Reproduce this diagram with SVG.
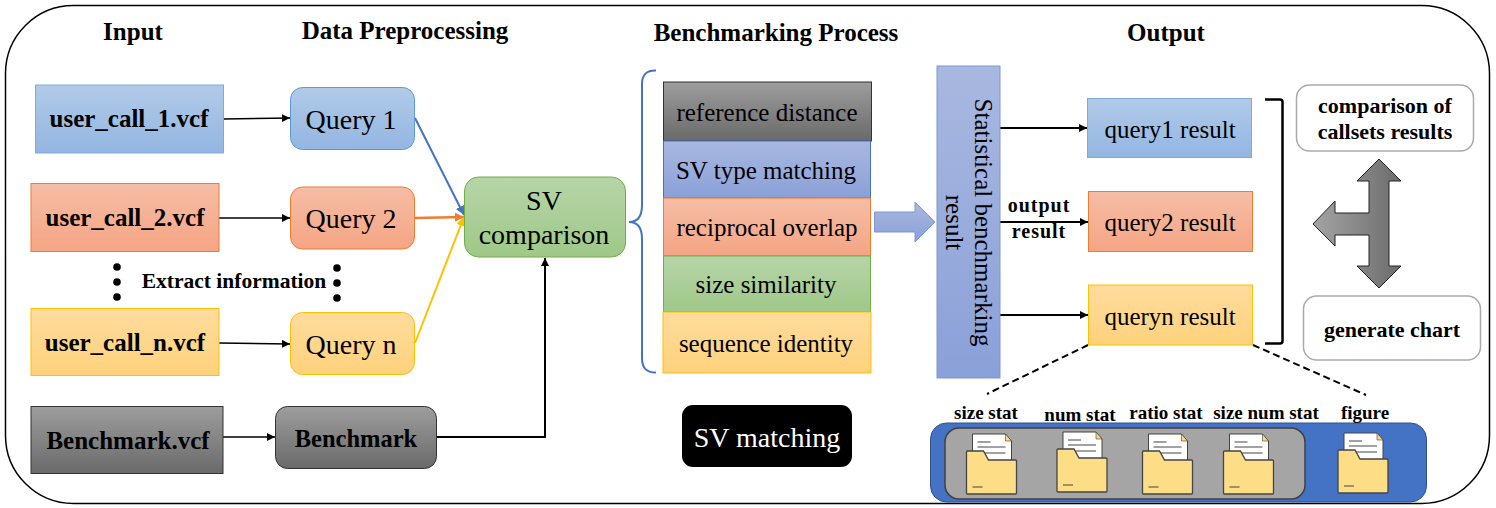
<svg xmlns="http://www.w3.org/2000/svg" xmlns:xlink="http://www.w3.org/1999/xlink" width="1496" height="508" viewBox="0 0 1496 508">
<defs>
<linearGradient id="gBlue" x1="0" y1="0" x2="0" y2="1"><stop offset="0" stop-color="#b1cae8"/><stop offset="1" stop-color="#93b6e2"/></linearGradient>
<linearGradient id="gOrange" x1="0" y1="0" x2="0" y2="1"><stop offset="0" stop-color="#f5bda6"/><stop offset="1" stop-color="#f5a584"/></linearGradient>
<linearGradient id="gYellow" x1="0" y1="0" x2="0" y2="1"><stop offset="0" stop-color="#fedc9e"/><stop offset="1" stop-color="#fed27c"/></linearGradient>
<linearGradient id="gGreen" x1="0" y1="0" x2="0" y2="1"><stop offset="0" stop-color="#b7d5a8"/><stop offset="1" stop-color="#9fc888"/></linearGradient>
<linearGradient id="gGray" x1="0" y1="0" x2="0" y2="1"><stop offset="0" stop-color="#9d9d9d"/><stop offset="1" stop-color="#6a6a6a"/></linearGradient>
<linearGradient id="gIndigo" x1="0" y1="0" x2="0" y2="1"><stop offset="0" stop-color="#a9b8e0"/><stop offset="1" stop-color="#8aa0d8"/></linearGradient>
<linearGradient id="gArrow" x1="0" y1="0" x2="1" y2="0"><stop offset="0" stop-color="#a4a4a4"/><stop offset="1" stop-color="#6c6c6c"/></linearGradient>
<marker id="mK" markerUnits="userSpaceOnUse" markerWidth="10" markerHeight="10" refX="8" refY="4" orient="auto"><path d="M0 0L8 4L0 8Z" fill="#000"/></marker>
<marker id="mB" markerUnits="userSpaceOnUse" markerWidth="12" markerHeight="10" refX="9" refY="4.5" orient="auto"><path d="M0 0L9 4.500L0 9Z" fill="#4472c4"/></marker>
<marker id="mO" markerUnits="userSpaceOnUse" markerWidth="12" markerHeight="10" refX="9" refY="4.500" orient="auto"><path d="M0 0L9 4.500L0 9Z" fill="#ed7d31"/></marker>
<marker id="mY" markerUnits="userSpaceOnUse" markerWidth="12" markerHeight="10" refX="9" refY="4.500" orient="auto"><path d="M0 0L9 4.500L0 9Z" fill="#ffc000"/></marker>
<g id="folder">
<path d="M6 0H39L45 7V32H6Z" fill="#fff" stroke="#444" stroke-width="1"/>
<path d="M39 0V7H45Z" fill="#fcd683" stroke="#444" stroke-width="0.6"/>
<path d="M11 8H24M11 13H39M11 19H39" stroke="#444" stroke-width="1" fill="none"/>
<path d="M1 17H17L22 26H49Q50 26 50 27V59Q50 60 49 60H1Q0 60 0 59V18Q0 17 1 17Z" fill="#fedd87" stroke="#444" stroke-width="1.300"/>
<path d="M6 53H16" stroke="#444" stroke-width="1"/>
</g>
</defs>
<style>
text{font-family:"Liberation Serif","Times New Roman",serif;fill:#000;text-anchor:middle}
.b{font-weight:bold}
.t{font-size:25px;font-weight:bold}
.f{font-size:25px;font-weight:bold}
.n{font-size:24.500px;font-weight:bold}
.q{font-size:28px}
.s{font-size:25px}
.l{font-size:19px;font-weight:bold}
.w{font-size:22px;font-weight:bold}
.o{font-size:20px;font-weight:bold;letter-spacing:1px}
.c{fill:none;stroke:#000;stroke-width:1.500}
.th{fill:none;stroke:#000;stroke-width:2}
</style>
<rect id="frame" x="5.500" y="5.500" width="1484" height="498" rx="68" ry="68" fill="#fff" stroke="#000" stroke-width="1.500"/>
<g id="titles">
<text class="t" x="133" y="40">Input</text>
<text class="t" x="405" y="39">Data Preprocessing</text>
<text class="t" x="776" y="41">Benchmarking Process</text>
<text class="t" x="1166" y="41">Output</text>
</g>
<g id="connectors">
<path class="c" d="M223 119L290 118" marker-end="url(#mK)"/>
<path class="c" d="M219 218H290" marker-end="url(#mK)"/>
<path class="c" d="M219 343L290 344" marker-end="url(#mK)"/>
<path class="c" d="M223 437H275" marker-end="url(#mK)"/>
<path d="M415 118L464 215" fill="none" stroke="#4472c4" stroke-width="2" marker-end="url(#mB)"/>
<path d="M415 218L464 217" fill="none" stroke="#ed7d31" stroke-width="2.500" marker-end="url(#mO)"/>
<path d="M415 343L464 217" fill="none" stroke="#ffc000" stroke-width="2" marker-end="url(#mY)"/>
<path class="th" d="M437 437H545V258" marker-end="url(#mK)"/>
<path class="th" d="M1000 128H1087" marker-end="url(#mK)"/>
<path class="th" d="M1000 222H1088" marker-end="url(#mK)"/>
<path class="th" d="M1000 315H1088" marker-end="url(#mK)"/>
<path d="M1088 345L987 394" fill="none" stroke="#000" stroke-width="2" stroke-dasharray="7 4"/>
<path d="M1253 345L1366 395" fill="none" stroke="#000" stroke-width="2" stroke-dasharray="7 4"/>
</g>
<g id="user_call_1"><rect x="35.500" y="85" width="188" height="68" fill="url(#gBlue)" stroke="#7fabdc"/><text class="f" x="129" y="127">user_call_1.vcf</text></g>
<g id="user_call_2"><rect x="31" y="183.500" width="188" height="68" fill="url(#gOrange)" stroke="#ed7d31"/><text class="f" x="125" y="226">user_call_2.vcf</text></g>
<g id="user_call_n"><rect x="31" y="308.500" width="188" height="67" fill="url(#gYellow)" stroke="#ffc000"/><text class="f" x="125" y="351">user_call_n.vcf</text></g>
<g id="benchmark_vcf"><rect x="31" y="406.500" width="192" height="67" fill="url(#gGray)" stroke="#333"/><text class="f" x="128" y="449">Benchmark.vcf</text></g>
<g id="query_1"><rect x="290.500" y="87.500" width="124" height="62" rx="12" fill="url(#gBlue)" stroke="#5b9bd5"/><text class="q" x="351" y="129">Query 1</text></g>
<g id="query_2"><rect x="290.500" y="187" width="124" height="62" rx="12" fill="url(#gOrange)" stroke="#ed7d31"/><text class="q" x="351" y="228">Query 2</text></g>
<g id="query_n"><rect x="290.500" y="312.500" width="124" height="62" rx="12" fill="url(#gYellow)" stroke="#ffc000"/><text class="q" x="351" y="354">Query n</text></g>
<g id="benchmark"><rect x="275.500" y="406.500" width="161" height="62" rx="12" fill="url(#gGray)" stroke="#333"/><text class="n" x="356" y="447">Benchmark</text></g>
<g id="sv_comparison"><rect x="464.500" y="177" width="161" height="80" rx="14" fill="url(#gGreen)" stroke="#70ad47"/><text class="q" x="544" y="210">SV</text><text class="q" x="544" y="244">comparison</text></g>
<g id="dots" fill="#000">
<circle cx="117" cy="267" r="3.800"/><circle cx="117" cy="282" r="3.800"/><circle cx="117" cy="297" r="3.800"/>
<circle cx="337" cy="268" r="3.800"/><circle cx="337" cy="283" r="3.800"/><circle cx="337" cy="298" r="3.800"/>
</g>
<text id="extract" class="b" font-size="21.500" x="234" y="288">Extract information</text>
<path id="brace" d="M656 70.500Q642 70 642 84V205Q642 222 629 222Q642 222 642 239V358Q642 373 656 372.500" fill="none" stroke="#4472c4" stroke-width="2"/>
<g id="reference_distance"><rect x="663.500" y="82" width="208" height="59" fill="url(#gGray)" stroke="#333"/><text class="s" x="767" y="121">reference distance</text></g>
<g id="sv_type_matching"><rect x="663.500" y="141" width="207" height="57" fill="url(#gIndigo)" stroke="#4472c4"/><text class="s" x="766" y="179">SV type matching</text></g>
<g id="reciprocal_overlap"><rect x="663.500" y="198" width="207" height="58" fill="url(#gOrange)" stroke="#ed7d31"/><text class="s" x="767" y="236">reciprocal overlap</text></g>
<g id="size_similarity"><rect x="663.500" y="256" width="207" height="56" fill="url(#gGreen)" stroke="#70ad47"/><text class="s" x="766" y="293">size similarity</text></g>
<g id="sequence_identity"><rect x="663" y="312" width="208" height="61" fill="url(#gYellow)" stroke="#ffc000"/><text class="s" x="766" y="352">sequence identity</text></g>
<path id="block_arrow" d="M874.500 212H915V202L935 222L915 242V232H874.500Z" fill="url(#gIndigo)" stroke="#7c97d2"/>
<g id="stat_box"><rect x="937" y="66" width="63" height="312" fill="url(#gIndigo)" stroke="#7c97d2"/>
<text class="s" transform="translate(975 222.500) rotate(90)">Statistical benchmarking</text>
<text class="s" transform="translate(946 222.500) rotate(90)">result</text></g>
<text id="output_result_1" class="o" x="1039" y="212">output</text>
<text id="output_result_2" class="o" x="1039" y="238">result</text>
<g id="query1_result"><rect x="1087.500" y="98.500" width="164" height="59" fill="url(#gBlue)" stroke="#7fabdc"/><text class="s" x="1170" y="138">query1 result</text></g>
<g id="query2_result"><rect x="1088.500" y="191.500" width="164" height="60" fill="url(#gOrange)" stroke="#ed7d31"/><text class="s" x="1170" y="231">query2 result</text></g>
<g id="queryn_result"><rect x="1088.500" y="285" width="164" height="60" fill="url(#gYellow)" stroke="#ffc000"/><text class="s" x="1170" y="325">queryn result</text></g>
<path id="bracket" d="M1265 99.500H1280Q1282.500 99.500 1282.500 102V341Q1282.500 343.500 1280 343.500H1265" fill="none" stroke="#000" stroke-width="2.500"/>
<g id="comparison_box"><rect x="1296.500" y="85" width="177" height="66" rx="13" fill="#fff" stroke="#aaa" stroke-width="1.500"/><text class="w" x="1385" y="113">comparison of</text><text class="w" x="1385" y="139">callsets results</text></g>
<g id="generate_box"><rect x="1303.500" y="296" width="177" height="64" rx="13" fill="#fff" stroke="#aaa" stroke-width="1.500"/><text class="w" x="1392" y="337">generate chart</text></g>
<path id="three_way_arrow" d="M1379 159L1401 181H1389V213V235V266H1401L1379 288L1357 266H1369V235H1335V246L1313 224L1335 201V213H1369V181H1357Z" fill="url(#gArrow)" stroke="#222" stroke-width="1"/>
<g id="files_panel">
<rect x="930.500" y="423" width="496" height="79" rx="16" fill="#4472c4" stroke="#2f528f"/>
<rect x="945" y="428" width="360" height="71" rx="14" fill="#a5a5a5" stroke="#404040" stroke-width="1.500"/>
<use xlink:href="#folder" href="#folder" x="966.500" y="434"/>
<use xlink:href="#folder" href="#folder" x="1057" y="432"/>
<use xlink:href="#folder" href="#folder" x="1142.500" y="434"/>
<use xlink:href="#folder" href="#folder" x="1223.500" y="434"/>
<use xlink:href="#folder" href="#folder" x="1338" y="433"/>
<text class="l" x="986" y="419">size stat</text>
<text class="l" x="1080" y="421">num stat</text>
<text class="l" x="1166" y="419">ratio stat</text>
<text class="l" x="1266" y="419">size num stat</text>
<text class="l" x="1365" y="419">figure</text>
</g>
<g id="sv_matching"><rect x="682" y="405" width="170" height="62" rx="11" fill="#000"/><text class="s" style="fill:#fff;font-size:28px" x="767" y="447">SV matching</text></g>
</svg>
